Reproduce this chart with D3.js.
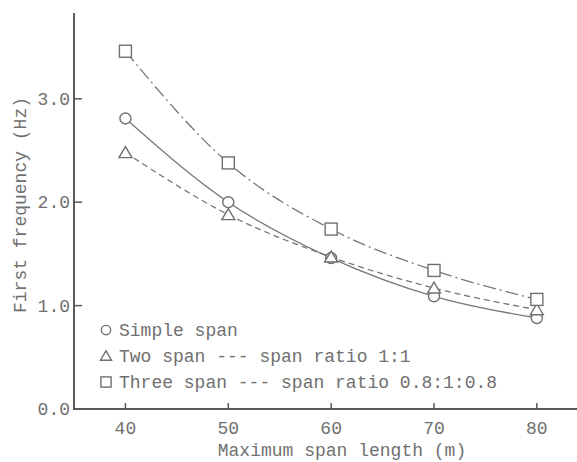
<!DOCTYPE html>
<html lang="en">
<head>
    <meta charset="UTF-8">
    <title>First frequency vs maximum span length</title>
    <style>
        body { margin: 0; background: #fff; }
        text {
            font-family: "Liberation Mono", "DejaVu Sans Mono", monospace;
            fill: #707070;
        }
        .axis-line { stroke: #5a5a5a; stroke-width: 2; fill: none; }
        .tick { stroke: #5a5a5a; stroke-width: 1.5; }
        .curve { fill: none; stroke: #777; stroke-width: 1.3; }
        .marker { fill: #fff; stroke: #707070; stroke-width: 1.4; }
    </style>
    <script src="https://d3js.org/d3.v7.min.js"></script>
</head>
<body>
    <svg width="577" height="462"></svg>
    <script>
        const spans = [40, 50, 60, 70, 80];
        const simpleSpan = [2.81, 2.00, 1.46, 1.09, 0.88];
        const twoSpan = [2.48, 1.88, 1.47, 1.17, 0.96];
        const threeSpan = [3.46, 2.38, 1.74, 1.34, 1.06];
        const yTicks = [0, 1, 2, 3];
        const legendLabels = [
            "Simple span",
            "Two span --- span ratio 1:1",
            "Three span --- span ratio 0.8:1:0.8"
        ];

        const series = [
            { values: simpleSpan, marker: "circle", dash: null },
            { values: twoSpan, marker: "triangle", dash: "6,4" },
            { values: threeSpan, marker: "square", dash: "13,4,2,4" }
        ];

        const svg = d3.select("svg");

        const x = d3.scaleLinear().domain([35, 84]).range([74, 578]);
        const y = d3.scaleLinear().domain([0, 3.83]).range([409, 13]);

        // axes
        svg.append("line").attr("class", "axis-line")
            .attr("x1", x(35)).attr("x2", x(35))
            .attr("y1", y(0) + 1).attr("y2", y(3.83));
        svg.append("line").attr("class", "axis-line")
            .attr("x1", x(35) - 1).attr("x2", 577)
            .attr("y1", y(0)).attr("y2", y(0));

        svg.selectAll(".xtick").data(spans).enter().append("line")
            .attr("class", "tick")
            .attr("x1", d => x(d)).attr("x2", d => x(d))
            .attr("y1", y(0)).attr("y2", y(0) - 6);

        svg.selectAll(".xlabel").data(spans).enter().append("text")
            .attr("x", d => x(d)).attr("y", 434)
            .attr("text-anchor", "middle")
            .attr("font-size", 18)
            .text(d => d);

        svg.selectAll(".ytick").data(yTicks.filter(d => d > 0)).enter().append("line")
            .attr("class", "tick")
            .attr("x1", x(35)).attr("x2", x(35) + 8)
            .attr("y1", d => y(d)).attr("y2", d => y(d));

        svg.selectAll(".ylabel").data(yTicks).enter().append("text")
            .attr("x", 70).attr("y", d => y(d) + 6)
            .attr("text-anchor", "end")
            .attr("font-size", 18)
            .text(d => d3.format(".1f")(d));

        svg.append("text")
            .attr("x", 342).attr("y", 456)
            .attr("text-anchor", "middle")
            .attr("font-size", 18)
            .text("Maximum span length (m)");

        svg.append("text")
            .attr("transform", "translate(26,205) rotate(-90)")
            .attr("text-anchor", "middle")
            .attr("font-size", 18)
            .text("First frequency (Hz)");

        // curves
        const line = d3.line()
            .x((d, i) => x(spans[i]))
            .y(d => y(d))
            .curve(d3.curveMonotoneX);

        series.forEach(s => {
            svg.append("path")
                .attr("class", "curve")
                .attr("d", line(s.values))
                .attr("stroke-dasharray", s.dash);
        });

        function drawMarker(g, type, cx, cy, k) {
            if (type === "circle") {
                g.append("circle").attr("class", "marker")
                    .attr("cx", cx).attr("cy", cy).attr("r", 5.5 * k);
            } else if (type === "square") {
                g.append("rect").attr("class", "marker")
                    .attr("x", cx - 6 * k).attr("y", cy - 6 * k)
                    .attr("width", 12 * k).attr("height", 12 * k);
            } else {
                g.append("path").attr("class", "marker")
                    .attr("d", `M${cx},${cy - 6 * k}L${cx + 6.5 * k},${cy + 5 * k}L${cx - 6.5 * k},${cy + 5 * k}Z`);
            }
        }

        const markers = svg.append("g");
        series.forEach(s => {
            s.values.forEach((v, i) => drawMarker(markers, s.marker, x(spans[i]), y(v), 1));
        });

        // legend
        const legend = svg.append("g");
        legendLabels.forEach((label, i) => {
            const baseY = 336 + i * 26;
            drawMarker(legend, series[i].marker, 106, baseY - 6, 0.85);
            legend.append("text")
                .attr("x", 119).attr("y", baseY)
                .attr("font-size", 18)
                .text(label);
        });
    </script>
</body>
</html>
